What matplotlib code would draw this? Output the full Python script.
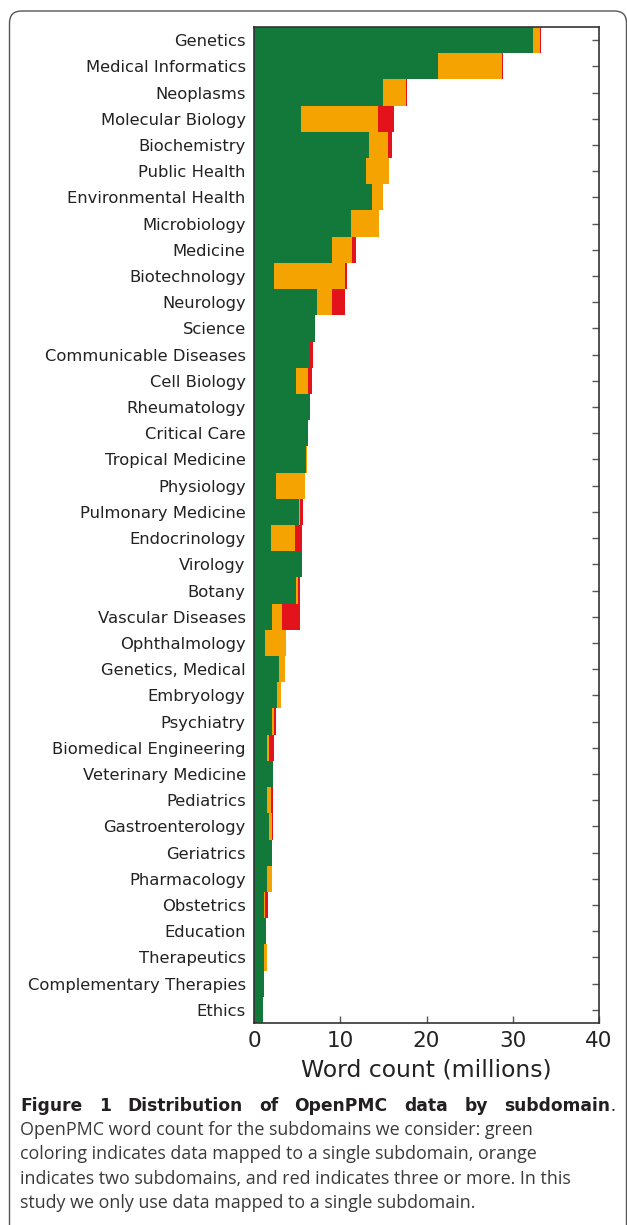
import matplotlib
matplotlib.use("Agg")
import matplotlib.pyplot as plt
from matplotlib.patches import FancyBboxPatch

# word counts (millions) per subdomain, top to bottom
subdomains = ["Genetics", "Medical Informatics", "Neoplasms", "Molecular Biology",
              "Biochemistry", "Public Health", "Environmental Health", "Microbiology",
              "Medicine", "Biotechnology", "Neurology", "Science",
              "Communicable Diseases", "Cell Biology", "Rheumatology", "Critical Care",
              "Tropical Medicine", "Physiology", "Pulmonary Medicine", "Endocrinology",
              "Virology", "Botany", "Vascular Diseases", "Ophthalmology",
              "Genetics, Medical", "Embryology", "Psychiatry", "Biomedical Engineering",
              "Veterinary Medicine", "Pediatrics", "Gastroenterology", "Geriatrics",
              "Pharmacology", "Obstetrics", "Education", "Therapeutics",
              "Complementary Therapies", "Ethics"]
single = [32.4, 21.3, 14.96, 5.45, 13.3, 12.95, 13.64, 11.25, 9.0, 2.32, 7.26, 7.11,
          6.45, 4.87, 6.53, 6.3, 6.07, 2.55, 5.26, 2.0, 5.57, 4.87, 2.09, 1.28,
          2.9, 2.71, 2.09, 1.55, 2.2, 1.55, 1.78, 2.09, 1.55, 1.16, 1.35, 1.12, 1.16, 1.04]
two = [0.76, 7.5, 2.64, 8.93, 2.28, 2.74, 1.28, 3.2, 2.4, 8.28, 1.74, 0.0,
       0.05, 1.35, 0.0, 0.0, 0.08, 3.32, 0.05, 2.77, 0.0, 0.23, 1.16, 2.43,
       0.73, 0.38, 0.19, 0.15, 0.0, 0.42, 0.27, 0.0, 0.54, 0.15, 0.08, 0.35, 0.0, 0.0]
three = [0.06, 0.1, 0.1, 1.85, 0.38, 0.0, 0.0, 0.0, 0.39, 0.15, 1.6, 0.0,
         0.3, 0.55, 0.0, 0.0, 0.0, 0.08, 0.41, 0.8, 0.0, 0.2, 2.08, 0.0,
         0.0, 0.0, 0.27, 0.58, 0.0, 0.23, 0.11, 0.0, 0.0, 0.31, 0.0, 0.0, 0.0, 0.0]

green, orange, red = "#12793a", "#f5a300", "#e3131b"
dark = "#333333"

fig = plt.figure(figsize=(6.27, 12.25), dpi=100)
W, H = 627, 1225
ax = fig.add_axes([254 / W, 1 - 1023 / H, 345 / W, 996 / H])

y = list(range(len(subdomains)))
left2 = single
left3 = [a + b for a, b in zip(single, two)]
ax.barh(y, single, height=1.0, color=green, linewidth=0)
ax.barh(y, two, left=left2, height=1.0, color=orange, linewidth=0)
ax.barh(y, three, left=left3, height=1.0, color=red, linewidth=0)

ax.set_ylim(len(subdomains) - 0.5, -0.5)
ax.set_xlim(0, 40)
ax.set_yticks(y)
ax.set_yticklabels(subdomains, fontsize=11.8, color="#222222")
ax.set_xticks([0, 10, 20, 30, 40])
ax.tick_params(axis="x", direction="in", length=5, width=1, color="#555555",
               labelsize=15.5, pad=6, labelcolor="#222222")
ax.tick_params(axis="y", direction="in", length=5, width=1, color="#555555",
               left=False, right=True, labelleft=True, labelright=False, pad=6)
ax.set_xlabel("Word count (millions)", fontsize=16.9, color="#222222", labelpad=5)
for s in ax.spines.values():
    s.set_color(dark)
    s.set_linewidth(1.2)

# frame round the whole figure
box = FancyBboxPatch((0.095, -0.3), 6.17, 12.44, boxstyle="round,pad=0,rounding_size=0.12",
                     transform=fig.dpi_scale_trans, fill=False, edgecolor="#555555",
                     linewidth=1.0)
fig.patches.append(box)

# caption, first line justified word by word
cap_size = 12.9
x0, x1 = 20, 615
words = ["Figure", "1", "Distribution", "of", "OpenPMC", "data", "by", "subdomain"]
yb = 1 - 1111 / H
texts = [fig.text(0, yb, w, fontsize=12.3, fontweight="bold", family="DejaVu Sans",
                  color="#231f20", va="baseline") for w in words]
dot = fig.text(0, yb, ".", fontsize=13, family="Open Sans", color="#231f20", va="baseline")
r = fig.canvas.get_renderer()
widths = [t.get_window_extent(r).width for t in texts]
dw = dot.get_window_extent(r).width
gap = (x1 - x0 - sum(widths) - dw) / (len(words) - 1)
pos = x0
for t, w in zip(texts, widths):
    t.set_x(pos / W)
    pos += w + gap
dot.set_x((pos - gap) / W)

body = ["OpenPMC word count for the subdomains we consider: green",
        "coloring indicates data mapped to a single subdomain, orange",
        "indicates two subdomains, and red indicates three or more. In this",
        "study we only use data mapped to a single subdomain."]
for i, line in enumerate(body):
    fig.text(x0 / W, 1 - (1130 + 24.3 * i) / H, line, fontsize=cap_size, family="Open Sans",
             color="#3a3a3a", va="center")

fig.savefig("out.png", dpi=100)
